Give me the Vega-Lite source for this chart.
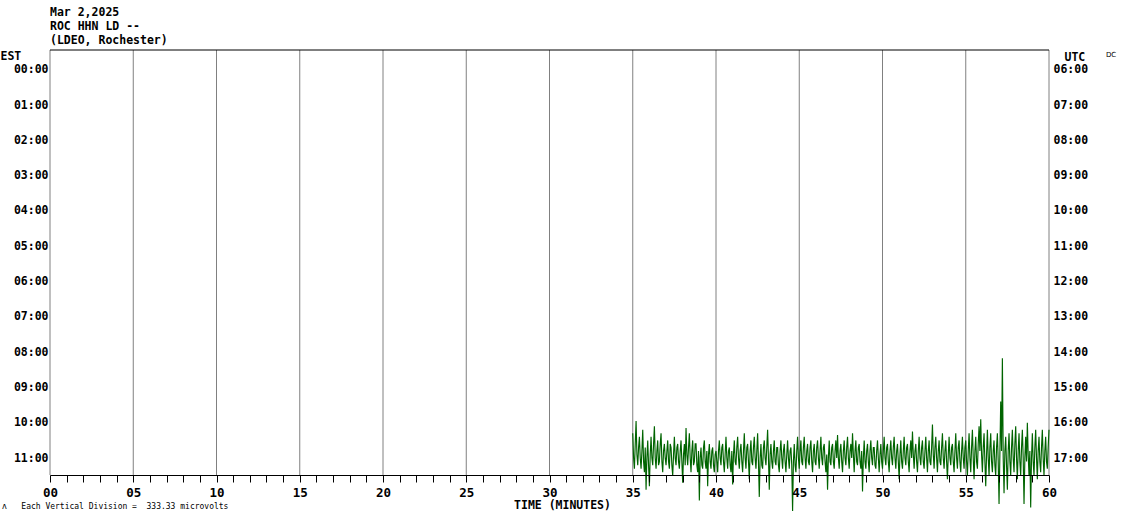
{
 "$schema": "https://vega.github.io/schema/vega-lite/v6.json",
 "width": 999, "height": 425,
 "autosize": {"type": "none"},
 "padding": {"left": 50, "top": 50, "right": 81, "bottom": 44},
 "background": "white",
 "config": {"view": {"stroke": null}, "font": "DejaVu Sans Mono"},
 "title": {"text": ["Mar 2,2025", "ROC HHN LD --", "(LDEO, Rochester)"], "anchor": "start", "frame": "group", "font": "DejaVu Sans Mono", "fontWeight": "bold", "fontSize": 11.5, "lineHeight": 14, "color": "black", "offset": 3},
 "resolve": {"scale": {"x": "independent", "y": "independent"}},
 "layer": [
  {"data": {"values": [{"t":0},{"t":5},{"t":10},{"t":15},{"t":20},{"t":25},{"t":30},{"t":35},{"t":40},{"t":45},{"t":50},{"t":55},{"t":60}]},
   "mark": {"type": "rule", "color": "#808080", "strokeWidth": 1},
   "encoding": {"x": {"field": "t", "type": "quantitative", "scale": {"domain": [0, 60], "nice": false, "zero": false}, "axis": null}}},
  {"data": {"values": [
{"t":35.0,"v":10.3},{"t":35.05,"v":11.0},{"t":35.1,"v":11.3},{"t":35.15,"v":10.6},{"t":35.2,"v":9.95},{"t":35.25,"v":10.9},{"t":35.3,"v":11.2},{"t":35.35,"v":10.7},{"t":35.4,"v":10.4},{"t":35.45,"v":11.0},{"t":35.5,"v":11.3},{"t":35.55,"v":10.8},{"t":35.6,"v":10.2},{"t":35.65,"v":11.1},{"t":35.7,"v":11.4},{"t":35.75,"v":10.7},{"t":35.8,"v":11.9},{"t":35.85,"v":11.0},{"t":35.9,"v":10.5},{"t":35.95,"v":11.2},
{"t":36.0,"v":11.8},{"t":36.05,"v":10.9},{"t":36.1,"v":10.4},{"t":36.15,"v":11.0},{"t":36.2,"v":11.2},{"t":36.25,"v":10.6},{"t":36.3,"v":10.1},{"t":36.35,"v":11.0},{"t":36.4,"v":11.3},{"t":36.45,"v":10.8},{"t":36.5,"v":10.5},{"t":36.55,"v":11.2},{"t":36.6,"v":11.1},{"t":36.65,"v":10.6},{"t":36.7,"v":10.3},{"t":36.75,"v":11.1},{"t":36.8,"v":11.4},{"t":36.85,"v":10.8},{"t":36.9,"v":10.6},{"t":36.95,"v":11.0},
{"t":37.0,"v":11.2},{"t":37.05,"v":10.8},{"t":37.1,"v":10.5},{"t":37.15,"v":11.1},{"t":37.2,"v":11.3},{"t":37.25,"v":10.6},{"t":37.3,"v":10.7},{"t":37.35,"v":11.2},{"t":37.4,"v":11.5},{"t":37.45,"v":10.9},{"t":37.5,"v":10.4},{"t":37.55,"v":11.0},{"t":37.6,"v":11.2},{"t":37.65,"v":10.7},{"t":37.7,"v":10.6},{"t":37.75,"v":11.1},{"t":37.8,"v":11.3},{"t":37.85,"v":10.8},{"t":37.9,"v":10.5},{"t":37.95,"v":11.1},
{"t":38.0,"v":11.7},{"t":38.05,"v":10.9},{"t":38.1,"v":10.6},{"t":38.15,"v":11.2},{"t":38.2,"v":10.15},{"t":38.25,"v":10.9},{"t":38.3,"v":11.2},{"t":38.35,"v":10.7},{"t":38.4,"v":10.3},{"t":38.45,"v":11.0},{"t":38.5,"v":11.4},{"t":38.55,"v":10.8},{"t":38.6,"v":10.5},{"t":38.65,"v":11.2},{"t":38.7,"v":11.1},{"t":38.75,"v":10.6},{"t":38.8,"v":10.6},{"t":38.85,"v":11.2},{"t":38.9,"v":11.4},{"t":38.95,"v":10.8},
{"t":39.0,"v":12.2},{"t":39.05,"v":11.0},{"t":39.1,"v":10.7},{"t":39.15,"v":11.2},{"t":39.2,"v":11.3},{"t":39.25,"v":10.7},{"t":39.3,"v":10.5},{"t":39.35,"v":11.1},{"t":39.4,"v":11.3},{"t":39.45,"v":10.8},{"t":39.5,"v":11.8},{"t":39.55,"v":10.9},{"t":39.6,"v":10.6},{"t":39.65,"v":11.1},{"t":39.7,"v":11.3},{"t":39.75,"v":10.8},{"t":39.8,"v":10.7},{"t":39.85,"v":11.2},{"t":39.9,"v":11.4},{"t":39.95,"v":10.9},
{"t":40.0,"v":10.8},{"t":40.05,"v":11.1},{"t":40.1,"v":11.4},{"t":40.15,"v":10.8},{"t":40.2,"v":10.5},{"t":40.25,"v":11.0},{"t":40.3,"v":11.2},{"t":40.35,"v":10.7},{"t":40.4,"v":10.6},{"t":40.45,"v":11.1},{"t":40.5,"v":11.4},{"t":40.55,"v":10.9},{"t":40.6,"v":10.4},{"t":40.65,"v":11.0},{"t":40.7,"v":11.3},{"t":40.75,"v":10.8},{"t":40.8,"v":10.7},{"t":40.85,"v":11.2},{"t":40.9,"v":11.4},{"t":40.95,"v":10.8},
{"t":41.0,"v":11.75},{"t":41.05,"v":10.9},{"t":41.1,"v":10.5},{"t":41.15,"v":11.1},{"t":41.2,"v":11.2},{"t":41.25,"v":10.7},{"t":41.3,"v":10.4},{"t":41.35,"v":11.0},{"t":41.4,"v":11.3},{"t":41.45,"v":10.8},{"t":41.5,"v":10.6},{"t":41.55,"v":11.1},{"t":41.6,"v":11.4},{"t":41.65,"v":10.8},{"t":41.7,"v":10.3},{"t":41.75,"v":11.0},{"t":41.8,"v":11.3},{"t":41.85,"v":10.7},{"t":41.9,"v":10.6},{"t":41.95,"v":11.1},
{"t":42.0,"v":11.6},{"t":42.05,"v":10.8},{"t":42.1,"v":10.5},{"t":42.15,"v":11.1},{"t":42.2,"v":11.2},{"t":42.25,"v":10.7},{"t":42.3,"v":10.4},{"t":42.35,"v":11.0},{"t":42.4,"v":11.3},{"t":42.45,"v":10.8},{"t":42.5,"v":10.3},{"t":42.55,"v":11.1},{"t":42.6,"v":12.1},{"t":42.65,"v":11.0},{"t":42.7,"v":10.6},{"t":42.75,"v":11.2},{"t":42.8,"v":11.3},{"t":42.85,"v":10.7},{"t":42.9,"v":10.5},{"t":42.95,"v":11.0},
{"t":43.0,"v":11.2},{"t":43.05,"v":10.7},{"t":43.1,"v":10.2},{"t":43.15,"v":11.0},{"t":43.2,"v":11.9},{"t":43.25,"v":10.9},{"t":43.3,"v":10.6},{"t":43.35,"v":11.1},{"t":43.4,"v":11.3},{"t":43.45,"v":10.8},{"t":43.5,"v":10.5},{"t":43.55,"v":11.1},{"t":43.6,"v":11.2},{"t":43.65,"v":10.7},{"t":43.7,"v":10.7},{"t":43.75,"v":11.2},{"t":43.8,"v":11.4},{"t":43.85,"v":10.8},{"t":43.9,"v":10.5},{"t":43.95,"v":11.0},
{"t":44.0,"v":11.3},{"t":44.05,"v":10.8},{"t":44.1,"v":10.6},{"t":44.15,"v":11.1},{"t":44.2,"v":11.4},{"t":44.25,"v":10.9},{"t":44.3,"v":10.5},{"t":44.35,"v":11.0},{"t":44.4,"v":11.3},{"t":44.45,"v":10.8},{"t":44.5,"v":10.7},{"t":44.55,"v":11.2},{"t":44.6,"v":12.5},{"t":44.65,"v":11.1},{"t":44.7,"v":10.6},{"t":44.75,"v":11.2},{"t":44.8,"v":11.4},{"t":44.85,"v":10.8},{"t":44.9,"v":10.4},{"t":44.95,"v":11.0},
{"t":45.0,"v":11.3},{"t":45.05,"v":10.8},{"t":45.1,"v":10.5},{"t":45.15,"v":11.1},{"t":45.2,"v":11.2},{"t":45.25,"v":10.7},{"t":45.3,"v":10.4},{"t":45.35,"v":11.0},{"t":45.4,"v":11.3},{"t":45.45,"v":10.8},{"t":45.5,"v":10.6},{"t":45.55,"v":11.1},{"t":45.6,"v":11.2},{"t":45.65,"v":10.7},{"t":45.7,"v":10.5},{"t":45.75,"v":11.1},{"t":45.8,"v":11.4},{"t":45.85,"v":10.8},{"t":45.9,"v":10.6},{"t":45.95,"v":11.1},
{"t":46.0,"v":11.2},{"t":46.05,"v":10.7},{"t":46.1,"v":10.5},{"t":46.15,"v":11.0},{"t":46.2,"v":11.3},{"t":46.25,"v":10.8},{"t":46.3,"v":10.4},{"t":46.35,"v":11.0},{"t":46.4,"v":11.2},{"t":46.45,"v":10.7},{"t":46.5,"v":10.6},{"t":46.55,"v":11.1},{"t":46.6,"v":11.4},{"t":46.65,"v":10.9},{"t":46.7,"v":11.9},{"t":46.75,"v":11.0},{"t":46.8,"v":10.5},{"t":46.85,"v":11.1},{"t":46.9,"v":11.2},{"t":46.95,"v":10.7},
{"t":47.0,"v":10.6},{"t":47.05,"v":11.1},{"t":47.1,"v":11.3},{"t":47.15,"v":10.8},{"t":47.2,"v":10.5},{"t":47.25,"v":11.0},{"t":47.3,"v":10.35},{"t":47.35,"v":11.0},{"t":47.4,"v":11.3},{"t":47.45,"v":10.8},{"t":47.5,"v":10.6},{"t":47.55,"v":11.1},{"t":47.6,"v":11.4},{"t":47.65,"v":10.8},{"t":47.7,"v":10.5},{"t":47.75,"v":11.0},{"t":47.8,"v":11.2},{"t":47.85,"v":10.7},{"t":47.9,"v":10.4},{"t":47.95,"v":11.0},
{"t":48.0,"v":11.3},{"t":48.05,"v":10.8},{"t":48.1,"v":10.6},{"t":48.15,"v":11.0},{"t":48.2,"v":10.3},{"t":48.25,"v":10.9},{"t":48.3,"v":11.4},{"t":48.35,"v":10.8},{"t":48.4,"v":10.5},{"t":48.45,"v":11.1},{"t":48.5,"v":11.2},{"t":48.55,"v":10.7},{"t":48.6,"v":10.6},{"t":48.65,"v":11.1},{"t":48.7,"v":11.3},{"t":48.75,"v":10.8},{"t":48.8,"v":11.95},{"t":48.85,"v":11.0},{"t":48.9,"v":10.5},{"t":48.95,"v":11.1},
{"t":49.0,"v":11.3},{"t":49.05,"v":10.8},{"t":49.1,"v":10.6},{"t":49.15,"v":11.1},{"t":49.2,"v":11.4},{"t":49.25,"v":10.8},{"t":49.3,"v":10.5},{"t":49.35,"v":11.0},{"t":49.4,"v":11.2},{"t":49.45,"v":10.7},{"t":49.5,"v":10.7},{"t":49.55,"v":11.2},{"t":49.6,"v":11.3},{"t":49.65,"v":10.8},{"t":49.7,"v":10.5},{"t":49.75,"v":11.0},{"t":49.8,"v":11.4},{"t":49.85,"v":10.9},{"t":49.9,"v":10.6},{"t":49.95,"v":11.1},
{"t":50.0,"v":11.3},{"t":50.05,"v":10.8},{"t":50.1,"v":10.4},{"t":50.15,"v":11.0},{"t":50.2,"v":11.2},{"t":50.25,"v":10.7},{"t":50.3,"v":10.6},{"t":50.35,"v":11.1},{"t":50.4,"v":11.4},{"t":50.45,"v":10.8},{"t":50.5,"v":10.5},{"t":50.55,"v":11.0},{"t":50.6,"v":11.2},{"t":50.65,"v":10.7},{"t":50.7,"v":10.4},{"t":50.75,"v":11.0},{"t":50.8,"v":11.3},{"t":50.85,"v":10.8},{"t":50.9,"v":10.6},{"t":50.95,"v":11.1},
{"t":51.0,"v":11.6},{"t":51.05,"v":10.9},{"t":51.1,"v":10.5},{"t":51.15,"v":11.1},{"t":51.2,"v":11.3},{"t":51.25,"v":10.8},{"t":51.3,"v":10.4},{"t":51.35,"v":11.0},{"t":51.4,"v":11.2},{"t":51.45,"v":10.7},{"t":51.5,"v":10.6},{"t":51.55,"v":11.1},{"t":51.6,"v":11.4},{"t":51.65,"v":10.8},{"t":51.7,"v":10.5},{"t":51.75,"v":11.0},{"t":51.8,"v":10.25},{"t":51.85,"v":10.9},{"t":51.9,"v":11.3},{"t":51.95,"v":10.8},
{"t":52.0,"v":10.6},{"t":52.05,"v":11.1},{"t":52.1,"v":11.4},{"t":52.15,"v":10.8},{"t":52.2,"v":10.4},{"t":52.25,"v":11.0},{"t":52.3,"v":11.2},{"t":52.35,"v":10.7},{"t":52.4,"v":10.5},{"t":52.45,"v":11.1},{"t":52.5,"v":11.3},{"t":52.55,"v":10.8},{"t":52.6,"v":10.4},{"t":52.65,"v":11.0},{"t":52.7,"v":11.4},{"t":52.75,"v":10.8},{"t":52.8,"v":10.5},{"t":52.85,"v":11.1},{"t":52.9,"v":11.2},{"t":52.95,"v":10.7},
{"t":53.0,"v":10.05},{"t":53.05,"v":10.9},{"t":53.1,"v":11.3},{"t":53.15,"v":10.7},{"t":53.2,"v":10.4},{"t":53.25,"v":11.0},{"t":53.3,"v":11.4},{"t":53.35,"v":10.8},{"t":53.4,"v":10.5},{"t":53.45,"v":11.1},{"t":53.5,"v":11.2},{"t":53.55,"v":10.7},{"t":53.6,"v":10.3},{"t":53.65,"v":11.0},{"t":53.7,"v":11.3},{"t":53.75,"v":10.8},{"t":53.8,"v":10.5},{"t":53.85,"v":11.1},{"t":53.9,"v":11.6},{"t":53.95,"v":10.9},
{"t":54.0,"v":10.4},{"t":54.05,"v":11.0},{"t":54.1,"v":11.2},{"t":54.15,"v":10.7},{"t":54.2,"v":10.6},{"t":54.25,"v":11.1},{"t":54.3,"v":11.4},{"t":54.35,"v":10.8},{"t":54.4,"v":10.3},{"t":54.45,"v":11.0},{"t":54.5,"v":11.3},{"t":54.55,"v":10.7},{"t":54.6,"v":10.5},{"t":54.65,"v":11.1},{"t":54.7,"v":11.4},{"t":54.75,"v":10.8},{"t":54.8,"v":10.4},{"t":54.85,"v":11.0},{"t":54.9,"v":11.3},{"t":54.95,"v":10.7},
{"t":55.0,"v":10.5},{"t":55.05,"v":11.1},{"t":55.1,"v":11.5},{"t":55.15,"v":10.8},{"t":55.2,"v":10.3},{"t":55.25,"v":11.0},{"t":55.3,"v":11.4},{"t":55.35,"v":10.7},{"t":55.4,"v":10.2},{"t":55.45,"v":11.0},{"t":55.5,"v":11.6},{"t":55.55,"v":10.8},{"t":55.6,"v":10.4},{"t":55.65,"v":11.1},{"t":55.7,"v":11.3},{"t":55.75,"v":10.6},{"t":55.8,"v":10.1},{"t":55.85,"v":10.8},{"t":55.9,"v":9.9},{"t":55.95,"v":10.9},
{"t":56.0,"v":11.4},{"t":56.05,"v":10.7},{"t":56.1,"v":10.3},{"t":56.15,"v":11.1},{"t":56.2,"v":11.8},{"t":56.25,"v":10.9},{"t":56.3,"v":10.2},{"t":56.35,"v":11.0},{"t":56.4,"v":11.5},{"t":56.45,"v":10.7},{"t":56.5,"v":10.3},{"t":56.55,"v":11.1},{"t":56.6,"v":11.4},{"t":56.65,"v":10.8},{"t":56.7,"v":10.5},{"t":56.75,"v":11.2},{"t":56.8,"v":11.5},{"t":56.85,"v":10.7},{"t":56.9,"v":10.3},{"t":56.95,"v":11.1},
{"t":57.0,"v":12.3},{"t":57.05,"v":10.9},{"t":57.1,"v":9.4},{"t":57.15,"v":10.8},{"t":57.2,"v":8.17},{"t":57.25,"v":11.0},{"t":57.3,"v":12.0},{"t":57.35,"v":10.8},{"t":57.4,"v":10.4},{"t":57.45,"v":11.2},{"t":57.5,"v":11.9},{"t":57.55,"v":10.8},{"t":57.6,"v":10.3},{"t":57.65,"v":11.1},{"t":57.7,"v":11.5},{"t":57.75,"v":10.7},{"t":57.8,"v":10.2},{"t":57.85,"v":11.0},{"t":57.9,"v":11.4},{"t":57.95,"v":10.6},
{"t":58.0,"v":10.1},{"t":58.05,"v":11.0},{"t":58.1,"v":11.6},{"t":58.15,"v":10.8},{"t":58.2,"v":10.3},{"t":58.25,"v":11.1},{"t":58.3,"v":11.5},{"t":58.35,"v":10.7},{"t":58.4,"v":10.2},{"t":58.45,"v":11.0},{"t":58.5,"v":12.3},{"t":58.55,"v":11.0},{"t":58.6,"v":10.4},{"t":58.65,"v":11.1},{"t":58.7,"v":10.0},{"t":58.75,"v":10.9},{"t":58.8,"v":11.5},{"t":58.85,"v":10.8},{"t":58.9,"v":12.4},{"t":58.95,"v":11.0},
{"t":59.0,"v":10.3},{"t":59.05,"v":11.1},{"t":59.1,"v":11.5},{"t":59.15,"v":10.7},{"t":59.2,"v":10.2},{"t":59.25,"v":11.0},{"t":59.3,"v":11.6},{"t":59.35,"v":10.8},{"t":59.4,"v":10.4},{"t":59.45,"v":11.1},{"t":59.5,"v":11.4},{"t":59.55,"v":10.7},{"t":59.6,"v":10.2},{"t":59.65,"v":11.0},{"t":59.7,"v":11.5},{"t":59.75,"v":10.8},{"t":59.8,"v":10.4},{"t":59.85,"v":11.1},{"t":59.9,"v":11.3},{"t":59.95,"v":10.7},
{"t":60.0,"v":10.2}
  ]},
   "mark": {"type": "line", "color": "#006400", "strokeWidth": 1.15, "clip": false},
   "encoding": {
    "x": {"field": "t", "type": "quantitative", "scale": {"domain": [0, 60], "nice": false, "zero": false},
      "axis": {"values": [0,1,2,3,4,5,6,7,8,9,10,11,12,13,14,15,16,17,18,19,20,21,22,23,24,25,26,27,28,29,30,31,32,33,34,35,36,37,38,39,40,41,42,43,44,45,46,47,48,49,50,51,52,53,54,55,56,57,58,59,60],
       "labelExpr": "datum.value % 5 == 0 ? (datum.value < 10 ? '0' + datum.value : '' + datum.value) : ''",
       "grid": false, "tickSize": 7, "tickColor": "black", "domainColor": "black", "labelColor": "black",
       "labelFont": "DejaVu Sans Mono", "labelFontWeight": "bold", "labelFontSize": 12.5, "labelPadding": 4,
       "labelOverlap": false, "labelFlush": false,
       "title": "TIME (MINUTES)", "titleFont": "DejaVu Sans Mono", "titleFontWeight": "bold", "titleFontSize": 11.5,
       "titleColor": "black", "titleX": 512, "titleY": 24, "titleBaseline": "top", "titleAlign": "center", "zindex": 1}},
    "y": {"field": "v", "type": "quantitative", "scale": {"domain": [-0.56, 11.48], "reverse": true, "nice": false, "zero": false},
      "axis": {"orient": "left", "values": [0,1,2,3,4,5,6,7,8,9,10,11],
       "labelExpr": "(datum.value < 10 ? '0' : '') + datum.value + ':00'",
       "domain": false, "ticks": false, "grid": false, "labelPadding": 2, "labelColor": "black",
       "labelFont": "DejaVu Sans Mono", "labelFontWeight": "bold", "labelFontSize": 11.5, "labelBaseline": "middle",
       "title": "EST", "titleAngle": 0, "titleX": -50, "titleY": 6, "titleAlign": "left", "titleBaseline": "middle",
       "titleFont": "DejaVu Sans Mono", "titleFontWeight": "bold", "titleFontSize": 11.5, "titleColor": "black"}}
   }},
  {"data": {"values": [{"s": "ʌ\u00a0\u00a0\u00a0Each Vertical Division =\u00a0\u00a0333.33 microvolts"}]},
   "mark": {"type": "text", "align": "left", "baseline": "alphabetic", "font": "DejaVu Sans Mono", "fontSize": 8, "color": "black"},
   "encoding": {
    "text": {"field": "s"},
    "x": {"datum": -2.88, "scale": {"domain": [0, 60], "nice": false, "zero": false}, "axis": null},
    "y": {"datum": 12.44, "scale": {"domain": [-0.56, 11.48], "reverse": true, "nice": false, "zero": false}, "axis": null}}},
  {"data": {"values": [{"s": "DC"}]},
   "mark": {"type": "text", "align": "left", "baseline": "middle", "font": "DejaVu Sans", "fontSize": 7, "color": "black"},
   "encoding": {
    "text": {"field": "s"},
    "x": {"datum": 63.42, "scale": {"domain": [0, 60], "nice": false, "zero": false}, "axis": null},
    "y": {"datum": -0.42, "scale": {"domain": [-0.56, 11.48], "reverse": true, "nice": false, "zero": false}, "axis": null}}},
  {"data": {"values": [{"r": -0.56}]},
   "mark": {"type": "rule", "color": "black", "strokeWidth": 1},
   "encoding": {
    "y": {"field": "r", "type": "quantitative", "scale": {"domain": [-0.56, 11.48], "reverse": true, "nice": false, "zero": false},
     "axis": {"orient": "right", "values": [0,1,2,3,4,5,6,7,8,9,10,11],
      "labelExpr": "(datum.value + 6 < 10 ? '0' : '') + (datum.value + 6) + ':00'",
      "domain": false, "ticks": false, "grid": false, "labelPadding": 4, "labelColor": "black",
      "labelFont": "DejaVu Sans Mono", "labelFontWeight": "bold", "labelFontSize": 11.5, "labelBaseline": "middle",
      "title": "UTC", "titleAngle": 0, "titleX": 15, "titleY": 7, "titleAlign": "left", "titleBaseline": "middle",
      "titleFont": "DejaVu Sans Mono", "titleFontWeight": "bold", "titleFontSize": 11.5, "titleColor": "black"}}
   }}
 ]
}
